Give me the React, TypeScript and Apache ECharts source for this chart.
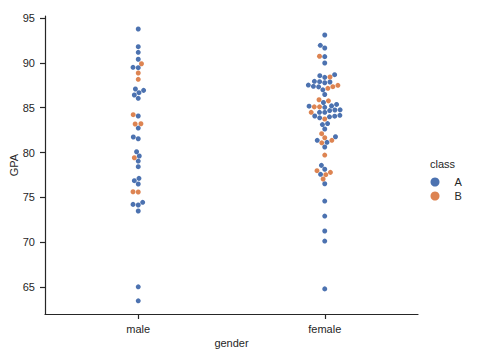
import React, { useEffect, useRef } from "react";
import * as echarts from "echarts";

const categories = ["male", "female"];
const classes = ["A", "B"];
const classColors = ["#4c72b0", "#dd8452"];
const yTicks = [65, 70, 75, 80, 85, 90, 95];

const maleGPA = [
  93.77, 91.8, 91.17, 90.4, 89.9, 89.5, 89.46, 88.87, 88.16, 87.08, 86.93, 86.67,
  86.41, 86.04, 84.22, 84.07, 83.21, 83.18, 82.73, 81.73, 81.54, 80.09, 79.61, 79.42,
  79.05, 78.42, 77.12, 76.86, 76.49, 75.63, 75.6, 74.45, 74.22, 74.15, 73.48, 65.03, 63.47,
];
const maleClass = [
  "A", "A", "A", "A", "B", "A", "A", "B", "B", "A", "A", "A",
  "A", "A", "B", "A", "B", "B", "A", "A", "A", "A", "A", "B",
  "A", "A", "A", "A", "A", "B", "B", "A", "A", "A", "A", "A", "A",
];

const femaleGPA = [
  93.1, 91.95, 91.65, 90.73, 90.69, 89.98, 88.68, 88.57, 88.42, 88.38, 87.94, 87.9,
  87.86, 87.78, 87.52, 87.49, 87.38, 87.32, 87.34, 87.16, 86.99, 86.47, 85.88, 85.76,
  85.58, 85.36, 85.2, 85.17, 85.09, 85.09, 85.04, 84.76, 84.74, 84.68, 84.48, 84.48,
  84.48, 84.15, 84.07, 84.05, 83.98, 83.87, 83.74, 83.23, 83.12, 82.62, 82.1, 81.76,
  81.65, 81.36, 81.36, 81.14, 81.08, 80.62, 79.72, 78.57, 78.14, 77.98, 77.79, 77.57,
  77.53, 77.05, 76.52, 74.59, 72.92, 71.25, 70.13, 64.8,
];
const femaleClass = [
  "A", "A", "A", "B", "A", "A", "A", "A", "B", "A", "A", "A",
  "A", "A", "A", "B", "A", "A", "B", "B", "A", "A", "B", "B",
  "A", "A", "A", "A", "B", "B", "A", "A", "A", "A", "A", "A",
  "B", "A", "A", "A", "A", "A", "B", "A", "A", "A", "B", "A",
  "B", "B", "A", "A", "B", "A", "B", "A", "A", "B", "B", "A",
  "B", "B", "A", "A", "A", "A", "A", "A",
];

const groupValues = [maleGPA, femaleGPA];
const groupClasses = [maleClass, femaleClass];

const TEXT = "#262626";
const FONT = "Liberation Sans, Arial, sans-serif";
const MARKER_R = 2.5;

// seaborn-style beeswarm in pixel space; ys are "up" coordinates
function beeswarm(ys: number[], mid: number, r: number): number[] {
  const order = ys.map((_, i) => i).sort((a, b) => ys[a] - ys[b] || a - b);
  const placed: { x: number; y: number }[] = [];
  const out: number[] = new Array(ys.length).fill(mid);
  const d2 = 4 * r * r;
  for (const i of order) {
    const y = ys[i];
    const neighbors: { x: number; y: number }[] = [];
    for (let k = placed.length - 1; k >= 0; k--) {
      if (y - placed[k].y < 2 * r) neighbors.unshift(placed[k]);
      else break;
    }
    let cand: number[] = [mid];
    let leftFirst = true;
    for (const n of neighbors) {
      const dy = y - n.y;
      const dx = Math.sqrt(Math.max(d2 - dy * dy, 0)) * 1.05;
      const cl = n.x - dx;
      const cr = n.x + dx;
      if (leftFirst) cand.push(cl, cr);
      else cand.push(cr, cl);
      leftFirst = !leftFirst;
    }
    cand = cand
      .map((x, j) => [x, j] as [number, number])
      .sort((a, b) => Math.abs(a[0] - mid) - Math.abs(b[0] - mid) || a[1] - b[1])
      .map((a) => a[0]);
    let chosen = mid;
    for (const x of cand) {
      if (neighbors.every((n) => (n.x - x) ** 2 + (n.y - y) ** 2 >= d2 - 1e-9)) {
        chosen = x;
        break;
      }
    }
    placed.push({ x: chosen, y });
    out[i] = chosen;
  }
  return out;
}

export default function App() {
  const ref = useRef<HTMLDivElement>(null);
  useEffect(() => {
    if (!ref.current) return;
    const chart = echarts.init(ref.current, undefined, { renderer: "svg" });
    const axisLine = { show: true, onZero: false, lineStyle: { color: TEXT, width: 1.2 } };
    const base: any = {
      animation: false,
      backgroundColor: "#ffffff",
      textStyle: { fontFamily: FONT },
      title: {
        text: "class",
        left: 430,
        top: 158,
        padding: 0,
        textStyle: { fontSize: 11, fontWeight: "normal", color: TEXT, fontFamily: FONT },
      },
      legend: {
        data: classes,
        orient: "vertical",
        left: 430.5,
        top: 175,
        padding: 0,
        itemGap: 0,
        itemWidth: 9,
        itemHeight: 9,
        icon: "circle",
        textStyle: { fontSize: 11, color: TEXT, fontFamily: FONT, lineHeight: 14, padding: [0, 0, 0, 10] },
      },
      grid: { left: 45, right: 71, top: 16, bottom: 44, containLabel: false, outerBoundsMode: "none" },
      xAxis: [
        {
          type: "category",
          data: categories,
          boundaryGap: true,
          axisLine,
          axisTick: { show: true, alignWithLabel: true, length: 5, lineStyle: { color: TEXT, width: 1.2 } },
          axisLabel: { color: TEXT, fontSize: 11, margin: 9, fontFamily: FONT },
          splitLine: { show: false },
          name: "gender",
          nameLocation: "middle",
          nameGap: 23,
          nameMoveOverlap: false,
          nameTextStyle: { color: TEXT, fontSize: 11, fontFamily: FONT },
        },
        { type: "value", min: -0.5, max: 1.5, show: false },
      ],
      yAxis: {
        type: "value",
        min: 62,
        max: 95.22,
        axisLine,
        axisTick: { show: true, length: 5, customValues: yTicks, lineStyle: { color: TEXT, width: 1.2 } },
        axisLabel: { color: TEXT, fontSize: 11, margin: 10, customValues: yTicks, fontFamily: FONT },
        splitLine: { show: false },
        name: "GPA",
        nameLocation: "middle",
        nameGap: 26,
        nameRotate: 90,
        nameMoveOverlap: false,
        nameTextStyle: { color: TEXT, fontSize: 11, fontFamily: FONT },
      },
      series: classes.map((c, ci) => ({
        name: c,
        type: "scatter",
        xAxisIndex: 1,
        yAxisIndex: 0,
        symbol: "circle",
        symbolSize: MARKER_R * 2,
        itemStyle: { color: classColors[ci], opacity: 1 },
        data: [],
      })),
    };
    chart.setOption(base);

    const seriesData: number[][][] = classes.map(() => []);
    groupValues.forEach((vals, gi) => {
      const mid = chart.convertToPixel({ xAxisIndex: 1 }, gi) as number;
      const ys = vals.map((v) => -(chart.convertToPixel({ yAxisIndex: 0 }, v) as number));
      const xs = beeswarm(ys, mid, MARKER_R);
      vals.forEach((v, i) => {
        const xv = chart.convertFromPixel({ xAxisIndex: 1 }, xs[i]) as number;
        const ci = classes.indexOf(groupClasses[gi][i]);
        seriesData[ci].push([xv, v]);
      });
    });
    chart.setOption({
      series: classes.map((c, ci) => ({ name: c, data: seriesData[ci] })),
    });
    return () => chart.dispose();
  }, []);
  return (
    <div
      ref={ref}
      style={{ position: "fixed", left: 0, top: 0, width: 489, height: 358 }}
    />
  );
}
